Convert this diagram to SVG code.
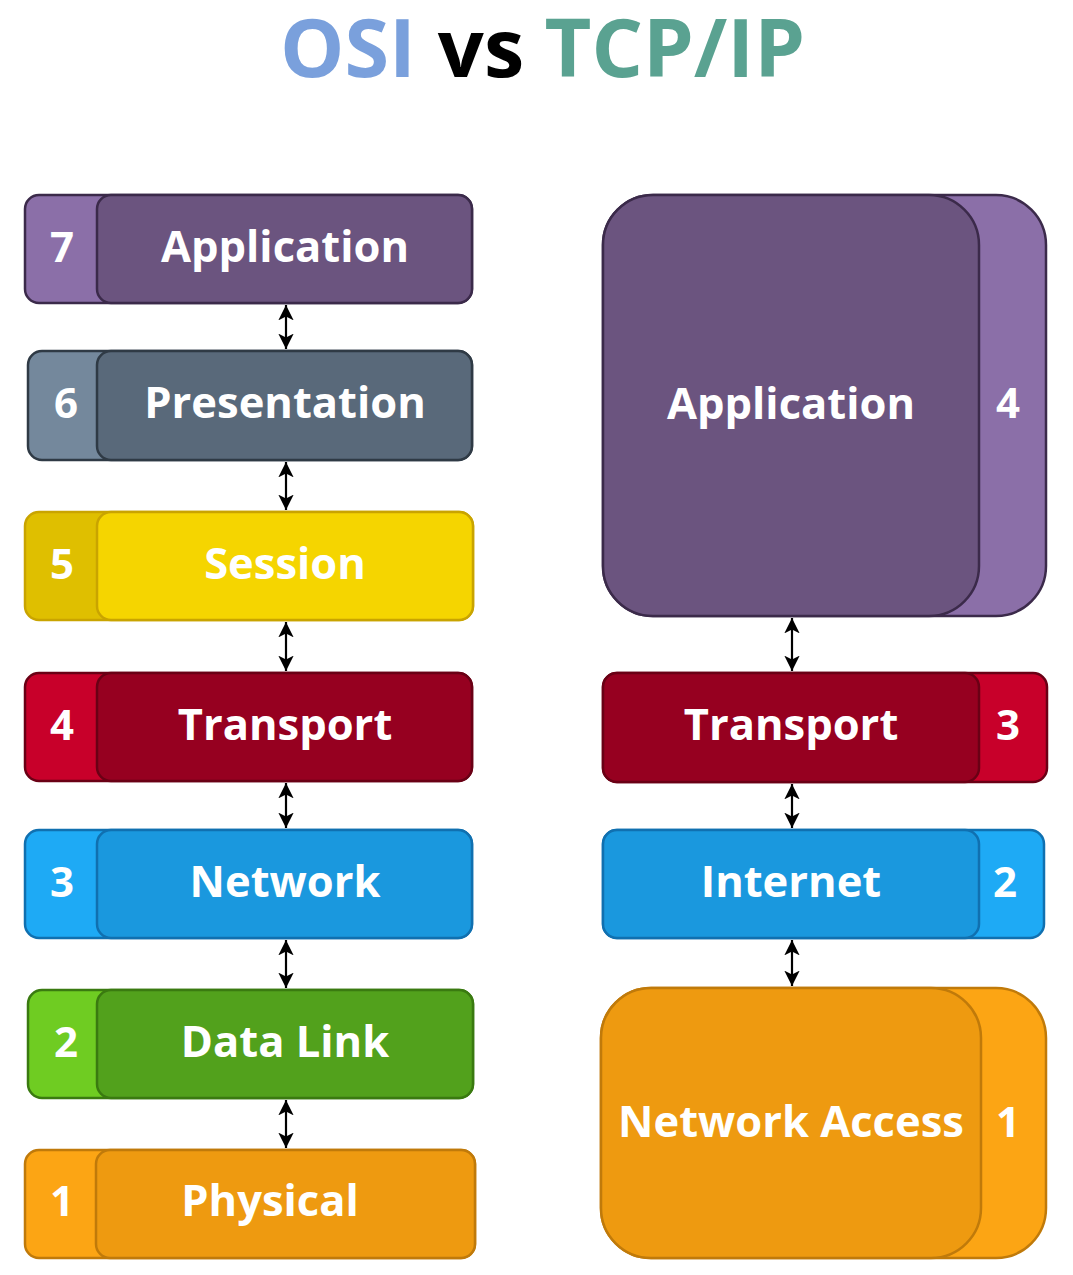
<svg xmlns="http://www.w3.org/2000/svg" width="1073" height="1275" viewBox="0 0 1073 1275">
<style>
.lbl{font-family:"Open Sans","Noto Sans","Liberation Sans",sans-serif;font-weight:bold;fill:#ffffff;text-anchor:middle}
.big{font-size:43.5px}
.num{font-size:42px}
.title{font-family:"Open Sans","Noto Sans","Liberation Sans",sans-serif;font-weight:bold;font-size:81px}
.conn{stroke:#000;stroke-width:2.2;fill:none;marker-start:url(#ah);marker-end:url(#ah)}
</style>
<defs>
<marker id="ah" viewBox="0 0 10 10" refX="10" refY="5" markerWidth="7" markerHeight="7" orient="auto-start-reverse" markerUnits="strokeWidth">
<path d="M0,0 L10,5 L0,10 L2.5,5 z" fill="#000"/>
</marker>
</defs>
<rect width="1073" height="1275" fill="#ffffff"/>
<text class="title" x="280" y="77" fill="#7aa0dc">OSI</text>
<text class="title" x="481" y="77" fill="#000000" text-anchor="middle">vs</text>
<text class="title" x="805" y="77" fill="#5aa291" text-anchor="end">TCP/IP</text>

<g id="osi7">
<rect x="25" y="195" width="447" height="108" rx="14" fill="#8b6fa8" stroke="#3b2a4a" stroke-width="2.5"/>
<rect x="97" y="195" width="375" height="108" rx="14" fill="#6b547f" stroke="#3b2a4a" stroke-width="2.5"/>
<text class="lbl num" x="62" y="262">7</text>
<text class="lbl big" x="285" y="262">Application</text>
</g>
<g id="osi6">
<rect x="28" y="351" width="444" height="109" rx="14" fill="#74889c" stroke="#2f3a45" stroke-width="2.5"/>
<rect x="97" y="351" width="375" height="109" rx="14" fill="#59697a" stroke="#2f3a45" stroke-width="2.5"/>
<text class="lbl num" x="66" y="418">6</text>
<text class="lbl big" x="285" y="418">Presentation</text>
</g>
<g id="osi5">
<rect x="25" y="512" width="448" height="108" rx="14" fill="#dfbf00" stroke="#c9a400" stroke-width="2.5"/>
<rect x="97" y="512" width="376" height="108" rx="14" fill="#f5d500" stroke="#c9a400" stroke-width="2.5"/>
<text class="lbl num" x="62" y="579">5</text>
<text class="lbl big" x="285" y="579">Session</text>
</g>
<g id="osi4">
<rect x="25" y="673" width="447" height="108" rx="14" fill="#c8002a" stroke="#6a0015" stroke-width="2.5"/>
<rect x="97" y="673" width="375" height="108" rx="14" fill="#960020" stroke="#6a0015" stroke-width="2.5"/>
<text class="lbl num" x="62" y="740">4</text>
<text class="lbl big" x="285" y="740">Transport</text>
</g>
<g id="osi3">
<rect x="25" y="830" width="447" height="108" rx="14" fill="#1eaaf5" stroke="#1070b0" stroke-width="2.5"/>
<rect x="97" y="830" width="375" height="108" rx="14" fill="#1a98de" stroke="#1070b0" stroke-width="2.5"/>
<text class="lbl num" x="62" y="897">3</text>
<text class="lbl big" x="285" y="897">Network</text>
</g>
<g id="osi2">
<rect x="28" y="990" width="445" height="108" rx="14" fill="#6fcc22" stroke="#3a7a10" stroke-width="2.5"/>
<rect x="97" y="990" width="376" height="108" rx="14" fill="#52a11c" stroke="#3a7a10" stroke-width="2.5"/>
<text class="lbl num" x="66" y="1057">2</text>
<text class="lbl big" x="285" y="1057">Data Link</text>
</g>
<g id="osi1">
<rect x="25" y="1150" width="450" height="108" rx="14" fill="#fca514" stroke="#c07a0a" stroke-width="2.5"/>
<rect x="96" y="1150" width="379" height="108" rx="14" fill="#ee9a10" stroke="#c07a0a" stroke-width="2.5"/>
<text class="lbl num" x="62" y="1216">1</text>
<text class="lbl big" x="270" y="1216">Physical</text>
</g>

<g id="tcp4">
<rect x="603" y="195" width="443" height="421" rx="50" fill="#8b6fa8" stroke="#3b2a4a" stroke-width="2.5"/>
<rect x="603" y="195" width="376" height="421" rx="50" fill="#6b547f" stroke="#3b2a4a" stroke-width="2.5"/>
<text class="lbl big" x="791" y="419">Application</text>
<text class="lbl num" x="1008" y="418">4</text>
</g>
<g id="tcp3">
<rect x="603" y="673" width="444" height="109" rx="14" fill="#c8002a" stroke="#6a0015" stroke-width="2.5"/>
<rect x="603" y="673" width="376" height="109" rx="14" fill="#960020" stroke="#6a0015" stroke-width="2.5"/>
<text class="lbl big" x="791" y="740">Transport</text>
<text class="lbl num" x="1008" y="740">3</text>
</g>
<g id="tcp2">
<rect x="603" y="830" width="441" height="108" rx="14" fill="#1eaaf5" stroke="#1070b0" stroke-width="2.5"/>
<rect x="603" y="830" width="376" height="108" rx="14" fill="#1a98de" stroke="#1070b0" stroke-width="2.5"/>
<text class="lbl big" x="791" y="897">Internet</text>
<text class="lbl num" x="1005" y="897">2</text>
</g>
<g id="tcp1">
<rect x="601" y="988" width="445" height="270" rx="50" fill="#fca514" stroke="#c07a0a" stroke-width="2.5"/>
<rect x="601" y="988" width="380" height="270" rx="50" fill="#ee9a10" stroke="#c07a0a" stroke-width="2.5"/>
<text class="lbl big" x="791" y="1137">Network Access</text>
<text class="lbl num" x="1008" y="1137">1</text>
</g>

<g id="connectors">
<line class="conn" x1="286" y1="305" x2="286" y2="349"/>
<line class="conn" x1="286" y1="462" x2="286" y2="510"/>
<line class="conn" x1="286" y1="622" x2="286" y2="671"/>
<line class="conn" x1="286" y1="783" x2="286" y2="828"/>
<line class="conn" x1="286" y1="940" x2="286" y2="988"/>
<line class="conn" x1="286" y1="1100" x2="286" y2="1148"/>
<line class="conn" x1="792" y1="618" x2="792" y2="671"/>
<line class="conn" x1="792" y1="784" x2="792" y2="828"/>
<line class="conn" x1="792" y1="940" x2="792" y2="986"/>
</g>
</svg>
